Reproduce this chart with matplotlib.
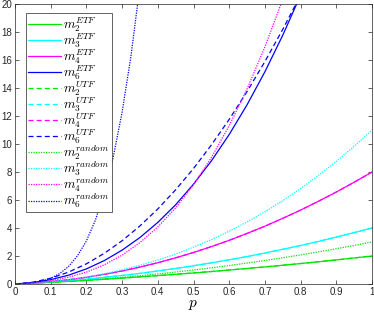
import matplotlib
matplotlib.use('Agg')
import matplotlib.pyplot as plt

plt.rcParams['mathtext.fontset'] = 'cm'
plt.rcParams['font.family'] = ['Liberation Sans', 'DejaVu Sans']

# shared grid of p values
p = [0, 0.05, 0.1, 0.15, 0.2, 0.25, 0.3, 0.35, 0.4, 0.45, 0.5,
     0.55, 0.6, 0.65, 0.7, 0.75, 0.8, 0.85, 0.9, 0.95, 1.0]

m2_etf = [0, 0.06, 0.12, 0.19, 0.26, 0.34, 0.42, 0.51, 0.60, 0.69, 0.79,
          0.89, 1.00, 1.11, 1.22, 1.34, 1.46, 1.59, 1.72, 1.86, 2.0]
m3_etf = [0, 0.07, 0.15, 0.24, 0.35, 0.48, 0.61, 0.76, 0.93, 1.11, 1.30,
          1.51, 1.73, 1.96, 2.21, 2.48, 2.75, 3.04, 3.35, 3.67, 4.0]
m4_etf = [0, 0.07, 0.17, 0.31, 0.48, 0.69, 0.93, 1.21, 1.52, 1.87, 2.25,
          2.67, 3.12, 3.61, 4.13, 4.69, 5.28, 5.91, 6.57, 7.27, 8.0]
m6_etf = [0, 0.10, 0.31, 0.63, 1.08, 1.67, 2.42, 3.32, 4.40, 5.66, 7.13,
          8.79, 10.68, 12.80, 15.16, 17.77, 20.64, 23.79, 27.2, 31.0, 35.0]

m2_utf = m2_etf
m3_utf = m3_etf
m4_utf = m4_etf
m6_utf = [0, 0.13, 0.41, 0.85, 1.44, 2.19, 3.09, 4.15, 5.36, 6.73, 8.25,
          9.93, 11.76, 13.75, 15.89, 18.19, 20.64, 23.25, 26.01, 28.93, 32.0]

m2_rand = [0, 0.055, 0.12, 0.195, 0.28, 0.375, 0.48, 0.595, 0.72, 0.855, 1.0,
           1.155, 1.32, 1.495, 1.68, 1.875, 2.08, 2.295, 2.52, 2.755, 3.0]
m3_rand = [0, 0.07, 0.17, 0.32, 0.50, 0.73, 1.01, 1.34, 1.71, 2.14, 2.63,
           3.17, 3.77, 4.43, 5.16, 5.95, 6.82, 7.75, 8.76, 9.84, 11.0]
m4_rand = [0, 0.08, 0.23, 0.48, 0.85, 1.37, 2.06, 2.96, 4.07, 5.44, 7.09,
           9.03, 11.31, 13.93, 16.93, 20.34, 24.17, 28.46, 33.22, 38.49, 44.3]

# m6 random rises fast, so it gets its own finer grid
p_r6 = [0, 0.025, 0.05, 0.075, 0.1, 0.125, 0.15, 0.175, 0.2, 0.225, 0.25,
        0.275, 0.3, 0.325, 0.35, 0.375]
m6_rand = [0, 0.03, 0.10, 0.21, 0.41, 0.74, 1.25, 2.01, 3.08, 4.55, 6.50,
           9.04, 12.27, 16.31, 21.30, 27.36]

G, C, M, B = '#00e600', '#00ffff', '#ff00ff', '#0000ff'
dash = (0, (4, 2.5))
dot = (0, (1, 1))

fig = plt.figure(figsize=(3.74, 3.2), dpi=100)
ax = fig.add_axes([0.0401, 0.1125, 0.9546, 0.875])

series = [
    (p, m2_etf, G, '-', r'$m_2^{ETF}$'),
    (p, m3_etf, C, '-', r'$m_3^{ETF}$'),
    (p, m4_etf, M, '-', r'$m_4^{ETF}$'),
    (p, m6_etf, B, '-', r'$m_6^{ETF}$'),
    (p, m2_utf, G, dash, r'$m_2^{UTF}$'),
    (p, m3_utf, C, dash, r'$m_3^{UTF}$'),
    (p, m4_utf, M, dash, r'$m_4^{UTF}$'),
    (p, m6_utf, B, dash, r'$m_6^{UTF}$'),
    (p, m2_rand, G, dot, r'$m_2^{random}$'),
    (p, m3_rand, C, dot, r'$m_3^{random}$'),
    (p, m4_rand, M, dot, r'$m_4^{random}$'),
    (p_r6, m6_rand, B, dot, r'$m_6^{random}$'),
]
for x, y, col, ls, lab in series:
    ax.plot(x, y, color=col, linestyle=ls, linewidth=0.9, label=lab)

ax.set_xlim(0, 1)
ax.set_ylim(0, 20)
ax.set_xticks([0, 0.1, 0.2, 0.3, 0.4, 0.5, 0.6, 0.7, 0.8, 0.9, 1])
ax.set_xticklabels(['0', '0.1', '0.2', '0.3', '0.4', '0.5', '0.6', '0.7', '0.8', '0.9', '1'])
ax.set_yticks(range(0, 21, 2))
ax.tick_params(direction='in', length=3, width=0.5, top=True, right=True,
               labelsize=7, colors='0.15', pad=2)
for s in ax.spines.values():
    s.set_color('0.15')
    s.set_linewidth(0.5)
ax.set_xlabel('$p$', fontsize=11, labelpad=1)

leg = ax.legend(loc='upper left', bbox_to_anchor=(0.031, 0.968), borderaxespad=0,
                fontsize=9.5, handlelength=2.5, handletextpad=0.18, borderpad=0.15,
                labelspacing=-0.2, fancybox=False, framealpha=1, edgecolor='0.15')
leg.get_frame().set_linewidth(0.5)

fig.savefig('out.png', dpi=100)
